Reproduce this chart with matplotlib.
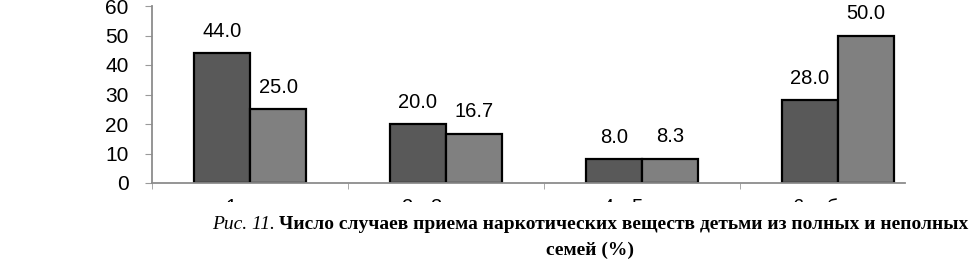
import matplotlib.pyplot as plt
from matplotlib.patches import Rectangle
import numpy as np

categories = ["1 раз", "2 - 3 раза", "4 - 5 раз", "6 и более"]  # cropped in the source, only tops visible
full_families = [44.0, 20.0, 8.0, 28.0]      # полные семьи
single_parent = [25.0, 16.7, 8.3, 50.0]      # неполные семьи

caption_italic = "Рис. 11."
caption_bold_1 = "Число случаев приема наркотических веществ детьми из полных и неполных"
caption_bold_2 = "семей (%)"

W, H = 974, 265
fig = plt.figure(figsize=(W / 100, H / 100), dpi=100)
ax = fig.add_axes([152 / W, (H - 183) / H, (905 - 152) / W, (183 - 6) / H])

x = np.arange(len(categories))
bw = 0.286
bars1 = ax.bar(x - bw / 2, full_families, bw, color="#595959", edgecolor="black", linewidth=1.6)
bars2 = ax.bar(x + bw / 2, single_parent, bw, color="#808080", edgecolor="black", linewidth=1.6)

for bars, vals in [(bars1, full_families), (bars2, single_parent)]:
    for b, v in zip(bars, vals):
        ax.annotate(f"{v:.1f}", (b.get_x() + b.get_width() / 2, v), xytext=(0, 9),
                    textcoords="offset points", ha="center", va="bottom",
                    fontsize=14.5, family="Liberation Sans")

ax.set_xlim(-0.5, 3.342)
ax.set_ylim(0, 60)
ax.set_yticks(range(0, 61, 10))
ax.set_xticks(x)
ax.set_xticklabels(categories, family="Liberation Sans", fontsize=14.5)
ax.set_xticks(np.arange(-0.5, 3, 1.0), minor=True)
ax.tick_params(axis="x", which="major", length=0, pad=11)
ax.tick_params(axis="x", which="minor", length=4, color="#9a9a9a", direction="out")
ax.tick_params(axis="y", length=5, color="#9a9a9a", pad=12, labelsize=15)
for lab in ax.get_yticklabels():
    lab.set_family("Liberation Sans")
for s in ["top", "right"]:
    ax.spines[s].set_visible(False)
for s in ["left", "bottom"]:
    ax.spines[s].set_color("#8c8c8c")
    ax.spines[s].set_linewidth(1.3)

# white band over the bottom (the caption cuts off the category labels in the source)
fig.add_artist(Rectangle((0, 0), 1, (H - 202) / H, transform=fig.transFigure,
                         facecolor="white", edgecolor="none", zorder=5))

fig.canvas.draw()
r = fig.canvas.get_renderer()
t_bold = fig.text(968 / W, (H - 229) / H, caption_bold_1, ha="right", va="baseline",
                  family="Liberation Serif", fontweight="bold", fontsize=14, zorder=6)
bb = t_bold.get_window_extent(r)
fig.text((bb.x0 - 4) / W, (H - 229) / H, caption_italic, ha="right", va="baseline",
         family="Liberation Serif", style="italic", fontsize=14, zorder=6)
fig.text(590 / W, (H - 255) / H, caption_bold_2, ha="center", va="baseline",
         family="Liberation Serif", fontweight="bold", fontsize=14, zorder=6)

fig.savefig("out.png", dpi=100)
